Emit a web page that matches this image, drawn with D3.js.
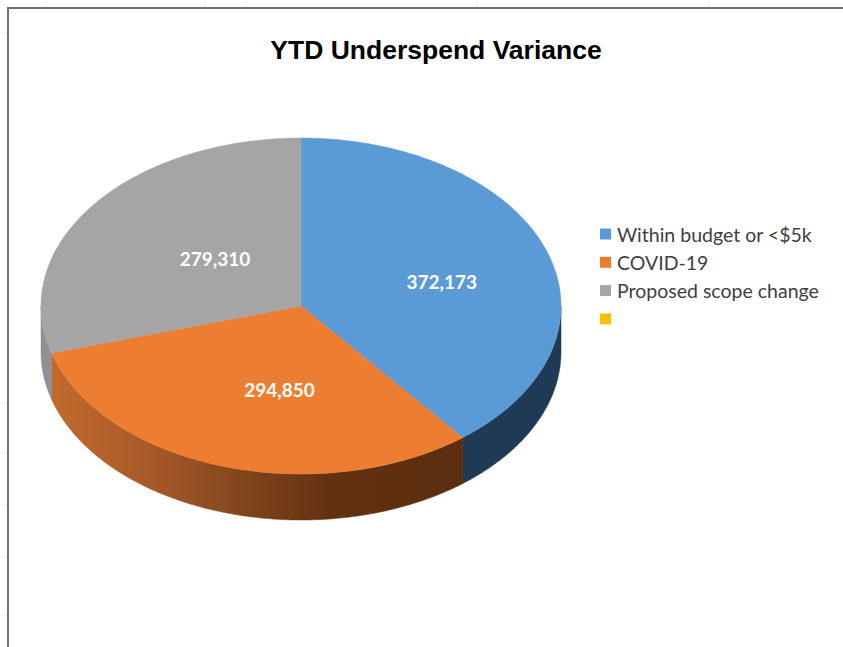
<!DOCTYPE html>
<html><head><meta charset="utf-8">
<script src="https://cdn.jsdelivr.net/npm/d3@7"></script>
<style>body{margin:0;background:#fff;overflow:hidden}</style></head>
<body>
<script>
const title = "YTD Underspend Variance";
const categories = ["Within budget or <$5k", "COVID-19", "Proposed scope change", ""];
const values = [372173, 294850, 279310, 0];
const colors = ["#5b9bd5", "#ed7d31", "#a5a5a5", "#ffc000"];
const sideColors = ["#1f3a55", "url(#orangeSide)", "#8d9197", "#8a6800"];

const W = 843, H = 647;
const svg = d3.select("body").append("svg").attr("width", W).attr("height", H)
  .style("font-family", "'Liberation Sans', Arial, sans-serif");

svg.append("rect").attr("width", W).attr("height", H).attr("fill", "#fff");

// spreadsheet grid remnants
const gridTop = [46, 205, 246, 477, 709];
const gridLeft = [33, 403, 453, 505, 557, 615];
svg.selectAll(".gt").data(gridTop).join("line")
  .attr("x1", d => d).attr("x2", d => d).attr("y1", 0).attr("y2", 7)
  .attr("stroke", "#ebebeb").attr("stroke-width", 1);
svg.selectAll(".gl").data(gridLeft).join("line")
  .attr("y1", d => d).attr("y2", d => d).attr("x1", 0).attr("x2", 7)
  .attr("stroke", "#ebebeb").attr("stroke-width", 1);

// chart frame
svg.append("path").attr("d", `M8,${H} L8,8 L${W},8`)
  .attr("fill", "none").attr("stroke", "#707070").attr("stroke-width", 2);

// title
svg.append("text").attr("x", 436).attr("y", 59).attr("text-anchor", "middle")
  .attr("font-size", 26.5).attr("font-weight", "bold").attr("fill", "#000")
  .text(title);

// gradient for orange side
const defs = svg.append("defs");
const g = defs.append("linearGradient").attr("id", "orangeSide")
  .attr("gradientUnits", "userSpaceOnUse").attr("x1", 45).attr("x2", 465).attr("y1", 0).attr("y2", 0);
[[0, "#c46b2c"], [0.25, "#a8592a"], [0.5, "#7c431a"], [0.68, "#623110"], [1, "#5c2d0f"]]
  .forEach(([o, c]) => g.append("stop").attr("offset", o).attr("stop-color", c));

const cx = 301, cy = 306, rx = 260, ry = 168, depth = 46;
const pie = d3.pie().sort(null).value(d => d).startAngle(0).endAngle(2 * Math.PI);
const arcs = pie(values);

const px = a => cx + rx * Math.sin(a);
const py = (a, dy = 0) => cy - ry * Math.cos(a) + dy;
function ellPts(a0, a1, dy) {
  const n = Math.max(2, Math.ceil((a1 - a0) / 0.01));
  return d3.range(n + 1).map(i => {
    const a = a0 + (a1 - a0) * i / n;
    return [px(a), py(a, dy)];
  });
}
const line = d3.line();

// side walls (front half only)
const sides = svg.append("g");
arcs.forEach((d, i) => {
  const lo = Math.max(d.startAngle, Math.PI / 2), hi = Math.min(d.endAngle, 3 * Math.PI / 2);
  if (hi <= lo) return;
  const top = ellPts(lo, hi, 0), bot = ellPts(lo, hi, depth).reverse();
  sides.append("path").attr("d", line(top.concat(bot)) + "Z")
    .attr("fill", sideColors[i]).attr("stroke", sideColors[i]).attr("stroke-width", 0.5);
});

// top faces
const tops = svg.append("g");
arcs.forEach((d, i) => {
  if (d.endAngle - d.startAngle <= 0) return;
  const pts = [[cx, cy]].concat(ellPts(d.startAngle, d.endAngle, 0));
  tops.append("path").attr("d", line(pts) + "Z")
    .attr("fill", colors[i]).attr("stroke", colors[i]).attr("stroke-width", 0.5);
});

// data labels
const fmt = d3.format(",");
const lblR = 0.5;
svg.append("g").selectAll("text").data(arcs.filter(d => d.value > 0)).join("text")
  .attr("x", d => cx + 18 + rx * lblR * Math.sin((d.startAngle + d.endAngle) / 2))
  .attr("y", d => cy + 3 - ry * lblR * Math.cos((d.startAngle + d.endAngle) / 2))
  .attr("text-anchor", "middle").attr("dominant-baseline", "central")
  .attr("font-family", "Lato, 'Open Sans', sans-serif").attr("font-weight", "bold")
  .attr("font-size", 19).attr("fill", "#fff")
  .text(d => fmt(d.value));

// legend
const lg = svg.append("g").attr("transform", "translate(600,234)");
const rows = lg.selectAll("g").data(categories).join("g")
  .attr("transform", (d, i) => `translate(0,${i * 28.3})`);
rows.append("rect").attr("x", 0).attr("y", -5.5).attr("width", 11).attr("height", 11)
  .attr("fill", (d, i) => colors[i]);
rows.append("text").attr("x", 17).attr("y", 0).attr("dominant-baseline", "central")
  .attr("font-family", "Lato, 'Open Sans', sans-serif").attr("font-size", 19.5)
  .attr("fill", "#404040").text(d => d);
</script>
</body></html>
